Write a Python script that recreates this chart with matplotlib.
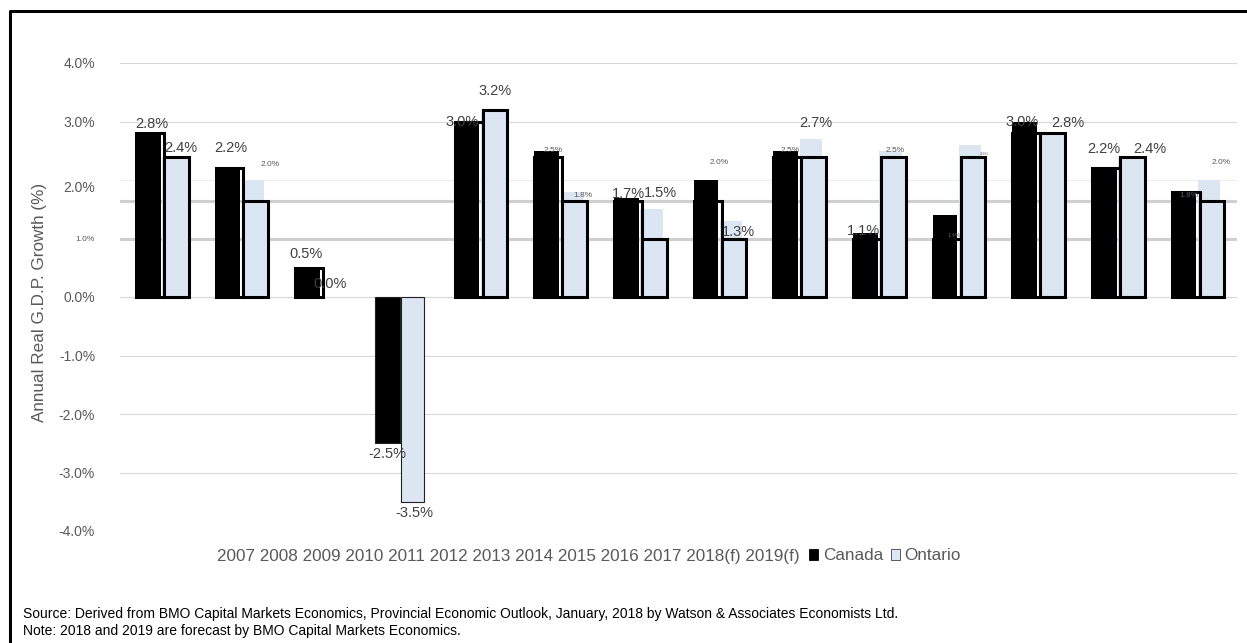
import numpy as np
import matplotlib
matplotlib.use("Agg")
import matplotlib.pyplot as plt
import matplotlib.transforms as mtransforms
from matplotlib.patches import Patch
from matplotlib.lines import Line2D

plt.rcParams['font.family'] = ['Liberation Sans', 'DejaVu Sans']

years = ['2007', '2008', '2009', '2010', '2011', '2012', '2013',
         '2014', '2015', '2016', '2017', '2018(f)', '2019(f)']

# growth rates (%) behind the filled bars and their labels
canada = [2.8, 2.2, 0.5, -2.5, 3.0, 2.5, 1.7, 2.0, 2.5, 1.1, 1.4, 3.0, 2.2, 1.8]
ontario = [2.4, 2.0, 0.0, -3.5, 3.2, 1.8, 1.5, 1.3, 2.7, 2.5, 2.6, 2.8, 2.4, 2.0]

# heights of the outlined bars drawn over them
canada_box = [2.8, 2.2, 0.5, 0.0, 3.0, 2.4, 1.64, 1.64, 2.4, 1.0, 1.0, 2.8, 2.2, 1.8]
ontario_box = [2.4, 1.64, 0.0, 0.0, 3.2, 1.64, 1.0, 1.0, 2.4, 2.4, 2.4, 2.8, 2.4, 1.64]

# heavy grey rules of the outlined layer
box_grid = [1.0, 1.64]

# label styling: font size and nudge in pixels
ca_size = [10.5, 10.5, 10.5, 10.5, 10.5, 6, 10.5, 6, 6, 10.5, 4, 10.5, 10.5, 6]
on_size = [10.5, 6, 10.5, 10.5, 10.5, 6, 10.5, 10.5, 10.5, 6, 3, 10.5, 10.5, 6]
ca_dx = [4, 3, -2, 0, -5, 7, 2, 13, 4, -2, 9, -3, -1, 5]
ca_dy = [9, 20, 14, -11, -1, 0, 4, 17, 0, 2, -20, -1, 19, -4]
on_dx = [7, 17, -3, 2, 3, 11, 9, 7, 5, 5, 14, 18, 20, 12]
on_dy = [9, 16, 13, -11, 19, -4, 16, -11, 16, 0, -9, 10, 8, 17]

blue = '#dce6f2'
grey_txt = '#595959'

x = np.arange(len(canada))

fig = plt.figure(figsize=(12.47, 6.43), dpi=100)
ax = fig.add_axes([120/1247, 1-531/643, 1117/1247, 468/643])
ax.set_xlim(-0.53, 13.49)
ax.set_ylim(-4, 4)

for v in [-4, -3, -2, -1, 0, 3, 4]:
    ax.axhline(v, color='#d9d9d9', lw=0.8, zorder=0)
ax.axhline(2, color='#ededed', lw=0.8, zorder=0)
for v in box_grid:
    ax.axhline(v, color='#d0d0d0', lw=2.2, zorder=0)

# filled layer
ca_edge = ['#222222' if v < 0 else 'none' for v in canada]
on_edge = ['#222222' if v < 0 else 'none' for v in ontario]
ax.bar(x - 0.33, canada, width=0.31, align='edge', color='black',
       edgecolor=ca_edge, linewidth=0.8, zorder=2)
ax.bar(x, ontario, width=0.28, align='edge', color=blue,
       edgecolor=on_edge, linewidth=0.8, zorder=2)

# outlined layer
ax.bar(x - 0.33, canada_box, width=0.35, align='edge', color='none',
       edgecolor=['black' if v != 0 else 'none' for v in canada_box],
       linewidth=2.2, zorder=3)
ax.bar(x + 0.02, ontario_box, width=0.31, align='edge', color=blue,
       edgecolor=['black' if v != 0 else 'none' for v in ontario_box],
       linewidth=2.2, zorder=3)

for i in range(len(x)):
    for xc, v, fs, dx, dy in [(x[i] - 0.175, canada[i], ca_size[i], ca_dx[i], ca_dy[i]),
                              (x[i] + 0.14, ontario[i], on_size[i], on_dx[i], on_dy[i])]:
        ax.annotate(f'{v:.1f}%', (xc, v), xytext=(dx, dy), textcoords='offset pixels',
                    ha='center', va='center', fontsize=fs,
                    color='#404040' if fs > 8 else grey_txt, zorder=4)

ticks = [-4, -3, -2, -1, 0, 1, 2, 3, 4]
ax.set_yticks(ticks)
ax.set_yticklabels([f'{t:.1f}%' for t in ticks])
ax.tick_params(axis='y', length=0, pad=18, labelsize=10, labelcolor=grey_txt)
ax.set_xticks([])
for lab, t in zip(ax.get_yticklabels(), ticks):
    if t == 1:
        lab.set_fontsize(6)
    if t == 2:
        lab.set_transform(lab.get_transform() +
                          mtransforms.ScaledTranslation(0, -7/100, fig.dpi_scale_trans))
for s in ax.spines.values():
    s.set_visible(False)

fig.text(40/1247, 1-302/643, 'Annual Real G.D.P. Growth (%)', rotation=90,
         ha='center', va='center', fontsize=12.3, color=grey_txt)

# category names and legend run together on one line
fig.text(217/1247, 1-556/643, ' '.join(years), ha='left', va='center',
         fontsize=12.3, color=grey_txt)
handles = [Patch(facecolor='black', edgecolor='black', linewidth=0.6),
           Patch(facecolor=blue, edgecolor='#404040', linewidth=0.6)]
fig.legend(handles, ['Canada', 'Ontario'], loc='center left',
           bbox_to_anchor=(809/1247, 1-556/643), ncol=2, frameon=False,
           fontsize=12.3, labelcolor=grey_txt, handlelength=0.55, handleheight=0.55,
           handletextpad=0.25, columnspacing=0.45, borderpad=0, borderaxespad=0)

fig.text(23/1247, 1-614/643,
         'Source: Derived from BMO Capital Markets Economics, Provincial Economic Outlook, '
         'January, 2018 by Watson & Associates Economists Ltd.',
         ha='left', va='center', fontsize=10, color='black')
fig.text(23/1247, 1-631/643,
         'Note: 2018 and 2019 are forecast by BMO Capital Markets Economics.',
         ha='left', va='center', fontsize=10, color='black')

# frame on the left and top edges
fig.add_artist(Line2D([9.5/1247, 9.5/1247, 1], [0, 1-11/643, 1-11/643],
                      transform=fig.transFigure, color='black', lw=2.2))

fig.savefig('out.png', dpi=100)
